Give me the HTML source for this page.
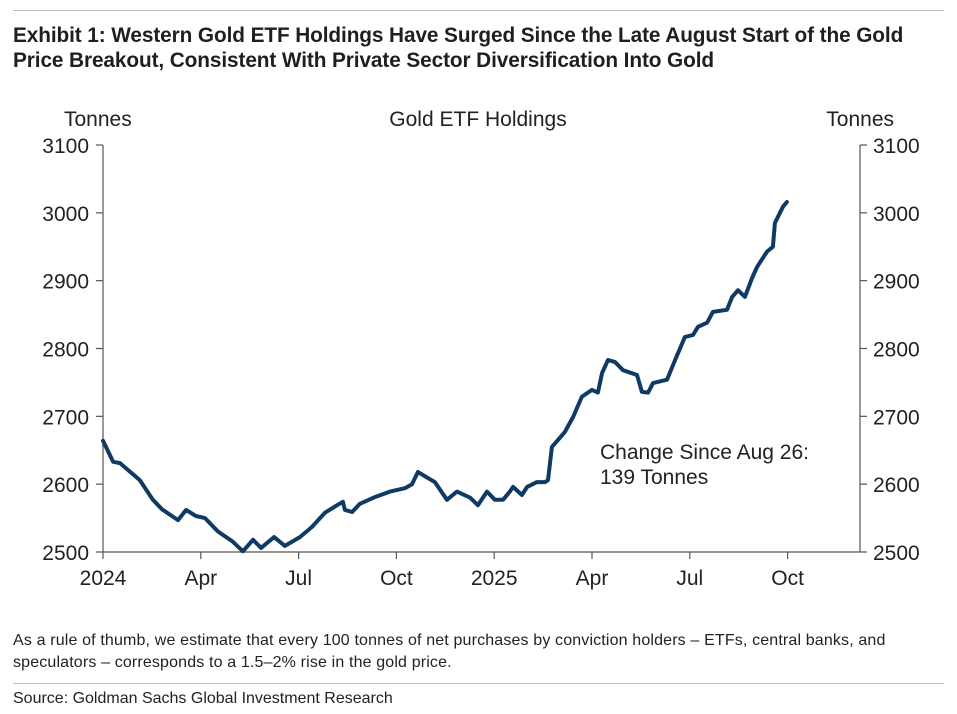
<!DOCTYPE html>
<html><head><meta charset="utf-8"><style>
body{margin:0;background:#fff;width:957px;height:714px;overflow:hidden;font-family:"Liberation Sans",sans-serif;position:relative}
.t{position:absolute;left:13px;top:23px;font-size:20.8px;font-weight:bold;color:#1f1f1f;line-height:25px;letter-spacing:-0.1px}
.rule{position:absolute;left:13px;right:13px;height:1px;background:#bdbdbd}
.note{position:absolute;left:13px;top:630px;font-size:16px;color:#222;line-height:22px;letter-spacing:0.15px}
.src{position:absolute;left:13px;top:690px;font-size:16px;color:#222}
svg{position:absolute;left:0;top:0}
svg text{font-family:"Liberation Sans",sans-serif;font-size:21px;fill:#222}
</style></head><body>
<div class="rule" style="top:10px"></div>
<div class="t">Exhibit 1: Western Gold ETF Holdings Have Surged Since the Late August Start of the Gold<br>Price Breakout, Consistent With Private Sector Diversification Into Gold</div>
<svg width="957" height="714" id="chart">
<text x="64" y="126">Tonnes</text>
<text x="894" y="126" text-anchor="end">Tonnes</text>
<text x="478" y="126" text-anchor="middle">Gold ETF Holdings</text>
<text x="600" y="459">Change Since Aug 26:</text>
<text x="600" y="484">139 Tonnes</text>
<g id="axes"></g>
<path id="line" fill="none" stroke="#0f3a64" stroke-width="4" stroke-linejoin="round" stroke-linecap="round"/>
</svg>
<div class="note">As a rule of thumb, we estimate that every 100 tonnes of net purchases by conviction holders – ETFs, central banks, and<br>speculators – corresponds to a 1.5–2% rise in the gold price.</div>
<div class="rule" style="top:683px"></div>
<div class="src">Source: Goldman Sachs Global Investment Research</div>
<script>
const months=[0,.31,.52,1.13,1.53,1.81,2.30,2.55,2.85,3.13,3.53,3.96,4.29,4.60,4.85,5.25,5.58,6.04,6.41,6.81,7.18,7.36,7.42,7.64,7.88,8.34,8.80,9.26,9.48,9.66,9.97,10.18,10.55,10.86,11.26,11.50,11.78,12.02,12.27,12.48,12.58,12.85,13.01,13.31,13.56,13.65,13.77,14.17,14.42,14.69,15.0,15.18,15.31,15.49,15.71,15.95,16.38,16.53,16.72,16.87,17.30,17.55,17.85,18.10,18.25,18.53,18.71,19.14,19.30,19.48,19.69,19.91,20.06,20.37,20.55,20.61,20.86,20.98];
const tonnes=[2664,2633,2631,2606,2577,2563,2547,2562,2553,2550,2530,2516,2501,2518,2506,2522,2509,2522,2537,2558,2569,2574,2562,2559,2571,2581,2589,2594,2600,2618,2609,2603,2577,2589,2580,2569,2589,2577,2577,2589,2596,2584,2596,2603,2603,2606,2655,2677,2699,2729,2739,2735,2764,2783,2780,2768,2761,2736,2735,2749,2754,2783,2817,2820,2832,2838,2854,2857,2876,2886,2876,2904,2920,2943,2950,2985,3009,3016];
const yTicks=[2500,2600,2700,2800,2900,3000,3100];
const xTickMonths=[0,3,6,9,12,15,18,21];
const xTickLabels=["2024","Apr","Jul","Oct","2025","Apr","Jul","Oct"];
const X0=103,X1=860,Y0=552,Y1=145;
const xs=m=>X0+m*32.6;
const ys=v=>Y0-(v-2500)/600*(Y0-Y1);
const NS="http://www.w3.org/2000/svg";
const g=document.getElementById('axes');
function mk(t,a){const e=document.createElementNS(NS,t);for(const k in a)e.setAttribute(k,a[k]);g.appendChild(e);return e;}
let e;
e=mk('line',{x1:X0,y1:Y1,x2:X0,y2:Y0,stroke:'#555','stroke-width':1.2});


e=mk('line',{x1:X1,y1:Y1,x2:X1,y2:Y0,stroke:'#555','stroke-width':1.2});


e=mk('line',{x1:X0,y1:Y0,x2:X1,y2:Y0,stroke:'#555','stroke-width':1.2});


yTicks.forEach(v=>{const y=ys(v);
 mk('line',{x1:X0-7,y1:y,x2:X0,y2:y,stroke:'#555','stroke-width':1.2});
 mk('line',{x1:X1,y1:y,x2:X1+7,y2:y,stroke:'#555','stroke-width':1.2});
 e=mk('text',{x:X0-14,y:y+8,'text-anchor':'end'});e.textContent=v;
 
 
 e=mk('text',{x:X1+13,y:y+8});e.textContent=v;
 
 
});
xTickMonths.forEach((m,i)=>{const x=xs(m);
 mk('line',{x1:x,y1:Y0,x2:x,y2:Y0+7,stroke:'#555','stroke-width':1.2});
 e=mk('text',{x:x,y:Y0+33,'text-anchor':'middle'});e.textContent=xTickLabels[i];
 
 
});
document.getElementById('line').setAttribute('d',months.map((m,i)=>(i?'L':'M')+xs(m).toFixed(1)+' '+ys(tonnes[i]).toFixed(1)).join(' '));
</script>
</body></html>
